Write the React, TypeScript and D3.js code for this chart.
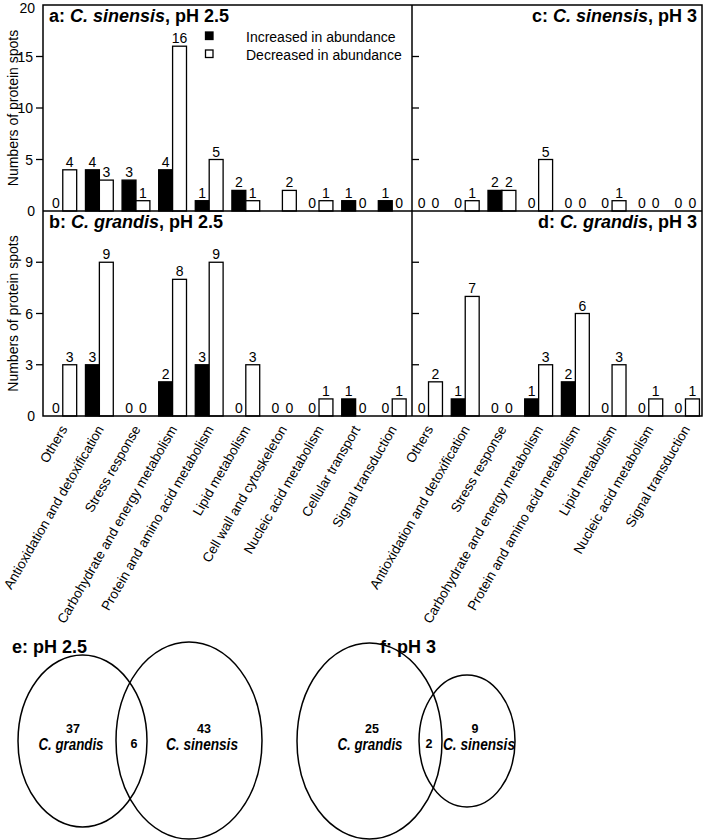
import * as d3 from "d3";

const categoriesPH25 = [
  "Others",
  "Antioxidation and detoxification",
  "Stress response",
  "Carbohydrate and energy metabolism",
  "Protein and amino acid metabolism",
  "Lipid metabolism",
  "Cell wall and cytoskeleton",
  "Nucleic acid metabolism",
  "Cellular transport",
  "Signal transduction",
];
const categoriesPH3 = [
  "Others",
  "Antioxidation and detoxification",
  "Stress response",
  "Carbohydrate and energy metabolism",
  "Protein and amino acid metabolism",
  "Lipid metabolism",
  "Nucleic acid metabolism",
  "Signal transduction",
];

// null = no bar and no label in the original
const incSinensisPH25 = [0, 4, 3, 4, 1, 2, null, 0, 1, 1];
const decSinensisPH25 = [4, 3, 1, 16, 5, 1, 2, 1, 0, 0];
const incGrandisPH25 = [0, 3, 0, 2, 3, 0, 0, 0, 1, 0];
const decGrandisPH25 = [3, 9, 0, 8, 9, 3, 0, 1, 0, 1];
const incSinensisPH3 = [0, 0, 2, 0, 0, 0, 0, 0];
const decSinensisPH3 = [0, 1, 2, 5, 0, 1, 0, 0];
const incGrandisPH3 = [0, 1, 0, 1, 2, 0, 0, 0];
const decGrandisPH3 = [2, 7, 0, 3, 6, 3, 1, 1];

const topTicks = [0, 5, 10, 15, 20];
const bottomTicks = [0, 3, 6, 9];

const legendLabels = ["Increased in abundance", "Decreased in abundance"];

const vennPH25 = { onlyGrandis: 37, shared: 6, onlySinensis: 43 };
const vennPH3 = { onlyGrandis: 25, shared: 2, onlySinensis: 9 };

const FONT = "'Liberation Sans', Arial, Helvetica, sans-serif";

const L = 43;
const MID = 412;
const R = 702;
const TOP = 5;
const MIDY = 211;
const BOT = 416;

interface PanelProps {
  x0: number;
  x1: number;
  y0: number;
  y1: number;
  cats: string[];
  inc: (number | null)[];
  dec: (number | null)[];
  yMax: number;
  ticks: number[];
  left: boolean;
  padOuter: number;
  titleLetter: string;
  species: string;
  ph: string;
  showCats: boolean;
}

function Panel(p: PanelProps) {
  const x = d3
    .scaleBand()
    .domain(p.cats)
    .range([p.x0, p.x1])
    .paddingInner(0.24)
    .paddingOuter(p.padOuter);
  const sub = d3.scaleBand().domain(["inc", "dec"]).range([0, x.bandwidth()]);
  const y = d3.scaleLinear().domain([0, p.yMax]).range([p.y1, p.y0]);

  const bars: any[] = [];
  p.cats.forEach((c, i) => {
    [
      ["inc", p.inc[i], "#000"],
      ["dec", p.dec[i], "#fff"],
    ].forEach(([k, v, fill]: any) => {
      const bx = (x(c) as number) + (sub(k) as number);
      const bw = sub.bandwidth();
      if (v == null) return;
      if (v > 0) {
        bars.push(
          <rect
            key={c + k}
            x={bx}
            y={y(v)}
            width={bw}
            height={p.y1 - y(v)}
            fill={fill}
            stroke="#000"
            strokeWidth={1.3}
          />
        );
      }
      bars.push(
        <text
          key={c + k + "t"}
          x={bx + bw / 2}
          y={y(v) - 3}
          textAnchor="middle"
          fontSize={14}
        >
          {v}
        </text>
      );
    });
  });

  return (
    <g fontFamily={FONT}>
      {bars}
      {p.ticks.map((t) => (
        <g key={"tk" + t}>
          {t > 0 && t < p.yMax && (
            <line
              x1={p.left ? p.x0 - 7 : p.x0}
              x2={p.left ? p.x0 : p.x0 + 7}
              y1={y(t)}
              y2={y(t)}
              stroke="#000"
              strokeWidth={1.3}
            />
          )}
          {p.left && (
            <text
              x={t > 0 && t < p.yMax ? 33 : 35}
              y={Math.max(y(t) + 5, 13)}
              textAnchor="end"
              fontSize={14}
            >
              {t}
            </text>
          )}
        </g>
      ))}
      <text
        x={p.left ? p.x0 + 6 : p.x1 - 5}
        y={p.y0 + 17}
        textAnchor={p.left ? "start" : "end"}
        fontSize={18}
        fontWeight="bold"
      >
        {p.titleLetter + ": "}
        <tspan fontStyle="italic">{p.species}</tspan>
        {", pH " + p.ph}
      </text>
      {p.showCats &&
        p.cats.map((c) => {
          const cx = (x(c) as number) + x.bandwidth() / 2 + 5;
          const cy = p.y1 + 13;
          return (
            <text
              key={"c" + c}
              transform={`translate(${cx},${cy}) rotate(-60)`}
              textAnchor="end"
              fontSize={13.5}
            >
              {c}
            </text>
          );
        })}
    </g>
  );
}

function Venn({
  label,
  data,
  left,
  right,
  textX,
}: {
  label: string;
  data: { onlyGrandis: number; shared: number; onlySinensis: number };
  left: number[];
  right: number[];
  textX: number[];
}) {
  return (
    <g fontFamily={FONT} fontWeight="bold">
      <ellipse cx={left[0]} cy={left[1]} rx={left[2]} ry={left[3]} fill="none" stroke="#000" strokeWidth={1.5} />
      <ellipse cx={right[0]} cy={right[1]} rx={right[2]} ry={right[3]} fill="none" stroke="#000" strokeWidth={1.5} />
      <text x={textX[0]} y={733} textAnchor="middle" fontSize={12.5}>
        {data.onlyGrandis}
      </text>
      <text
        x={textX[0] - 34.5}
        y={750}
        fontSize={16.5}
        fontStyle="italic"
        textLength={65}
        lengthAdjust="spacingAndGlyphs"
      >
        C. grandis
      </text>
      <text x={textX[1]} y={748} textAnchor="middle" fontSize={12.5}>
        {data.shared}
      </text>
      <text x={textX[2]} y={733} textAnchor="middle" fontSize={12.5}>
        {data.onlySinensis}
      </text>
      <text
        x={textX[3] - 36}
        y={750}
        fontSize={16.5}
        fontStyle="italic"
        textLength={72}
        lengthAdjust="spacingAndGlyphs"
      >
        C. sinensis
      </text>
      <text x={left[4]} y={653} fontSize={18}>
        {label}
      </text>
    </g>
  );
}

export default function App() {
  return (
    <div style={{ position: "absolute", left: 0, top: 0 }}>
      <svg width={706} height={840} style={{ display: "block", background: "#fff" }}>
        <Panel x0={L} x1={MID} y0={TOP} y1={MIDY} cats={categoriesPH25} inc={incSinensisPH25} dec={decSinensisPH25}
          yMax={20} ticks={topTicks} left padOuter={0.16} titleLetter="a" species="C. sinensis" ph="2.5" showCats={false} />
        <Panel x0={L} x1={MID} y0={MIDY} y1={BOT} cats={categoriesPH25} inc={incGrandisPH25} dec={decGrandisPH25}
          yMax={12} ticks={bottomTicks} left padOuter={0.16} titleLetter="b" species="C. grandis" ph="2.5" showCats />
        <Panel x0={MID} x1={R} y0={TOP} y1={MIDY} cats={categoriesPH3} inc={incSinensisPH3} dec={decSinensisPH3}
          yMax={20} ticks={topTicks} left={false} padOuter={0.07} titleLetter="c" species="C. sinensis" ph="3" showCats={false} />
        <Panel x0={MID} x1={R} y0={MIDY} y1={BOT} cats={categoriesPH3} inc={incGrandisPH3} dec={decGrandisPH3}
          yMax={12} ticks={bottomTicks} left={false} padOuter={0.07} titleLetter="d" species="C. grandis" ph="3" showCats />

        {/* frame */}
        <g stroke="#000" strokeWidth={1.5} fill="none">
          <rect x={L} y={TOP} width={R - L} height={BOT - TOP} />
          <line x1={MID} x2={MID} y1={TOP} y2={BOT} />
          <line x1={L} x2={R} y1={MIDY} y2={MIDY} />
        </g>

        {/* y axis titles */}
        <g fontFamily={FONT} fontSize={14}>
          <text transform={`translate(18,${(TOP + MIDY) / 2}) rotate(-90)`} textAnchor="middle">
            Numbers of protein spots
          </text>
          <text transform={`translate(18,${(MIDY + BOT) / 2}) rotate(-90)`} textAnchor="middle">
            Numbers of protein spots
          </text>
        </g>

        {/* legend */}
        <g fontFamily={FONT} fontSize={14}>
          {legendLabels.map((l, i) => (
            <g key={l}>
              <rect x={205.5} y={32 + i * 18} width={7.5} height={7.5} fill={i === 0 ? "#000" : "#fff"} stroke="#000" strokeWidth={1.3} />
              <text x={246} y={41.5 + i * 18}>{l}</text>
            </g>
          ))}
        </g>

        <Venn label="e: pH 2.5" data={vennPH25} left={[82.5, 741, 64.5, 86, 12]} right={[189, 740.5, 73, 98.5]} textX={[73, 134, 204, 202]} />
        <Venn label="f: pH 3" data={vennPH3} left={[369.5, 741, 72.5, 98, 380]} right={[467, 741, 48, 66]} textX={[372, 429, 475, 479]} />
      </svg>
    </div>
  );
}
